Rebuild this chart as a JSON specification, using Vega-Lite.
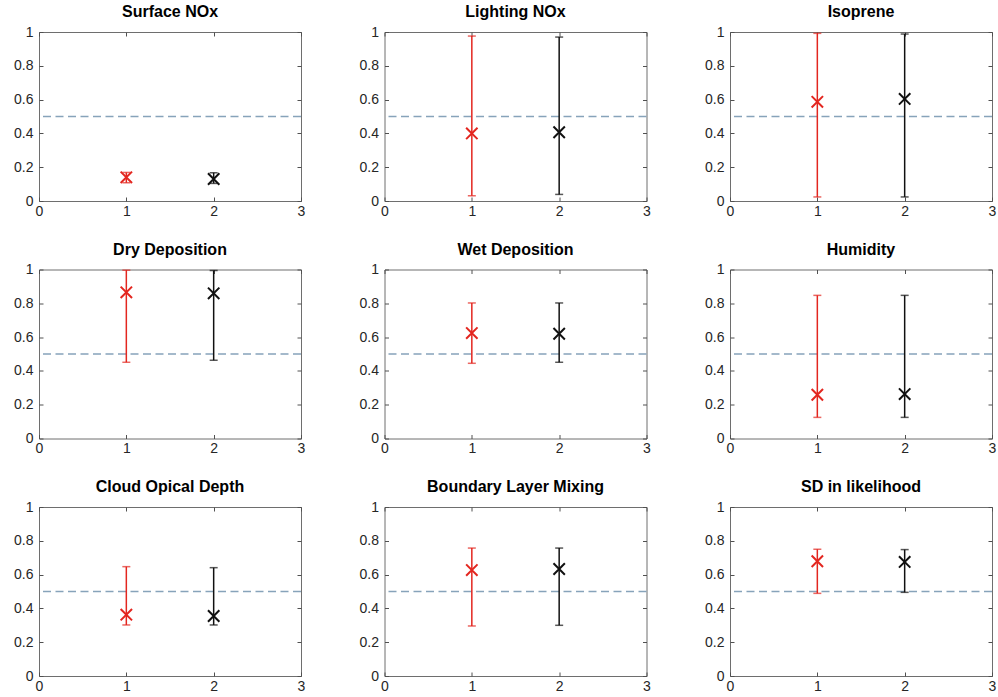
{
  "$schema": "https://vega.github.io/schema/vega-lite/v6.json",
  "background": "white",
  "padding": {"left": 13, "top": 3, "right": 0, "bottom": 0},
  "datasets": {
    "est": [
      {"panel": "Surface NOx", "series": "1", "x": 1, "est": 0.14, "lo": 0.108, "hi": 0.169},
      {"panel": "Surface NOx", "series": "2", "x": 2, "est": 0.13, "lo": 0.104, "hi": 0.167},
      {"panel": "Lighting NOx", "series": "1", "x": 1, "est": 0.40, "lo": 0.031, "hi": 0.976},
      {"panel": "Lighting NOx", "series": "2", "x": 2, "est": 0.407, "lo": 0.039, "hi": 0.970},
      {"panel": "Isoprene", "series": "1", "x": 1, "est": 0.587, "lo": 0.024, "hi": 0.992},
      {"panel": "Isoprene", "series": "2", "x": 2, "est": 0.604, "lo": 0.024, "hi": 0.988},
      {"panel": "Dry Deposition", "series": "1", "x": 1, "est": 0.865, "lo": 0.451, "hi": 0.996},
      {"panel": "Dry Deposition", "series": "2", "x": 2, "est": 0.859, "lo": 0.463, "hi": 0.994},
      {"panel": "Wet Deposition", "series": "1", "x": 1, "est": 0.624, "lo": 0.445, "hi": 0.802},
      {"panel": "Wet Deposition", "series": "2", "x": 2, "est": 0.62, "lo": 0.451, "hi": 0.802},
      {"panel": "Humidity", "series": "1", "x": 1, "est": 0.259, "lo": 0.125, "hi": 0.847},
      {"panel": "Humidity", "series": "2", "x": 2, "est": 0.263, "lo": 0.125, "hi": 0.847},
      {"panel": "Cloud Opical Depth", "series": "1", "x": 1, "est": 0.363, "lo": 0.302, "hi": 0.647},
      {"panel": "Cloud Opical Depth", "series": "2", "x": 2, "est": 0.355, "lo": 0.302, "hi": 0.641},
      {"panel": "Boundary Layer Mixing", "series": "1", "x": 1, "est": 0.627, "lo": 0.296, "hi": 0.757},
      {"panel": "Boundary Layer Mixing", "series": "2", "x": 2, "est": 0.633, "lo": 0.30, "hi": 0.757},
      {"panel": "SD in likelihood", "series": "1", "x": 1, "est": 0.679, "lo": 0.489, "hi": 0.75},
      {"panel": "SD in likelihood", "series": "2", "x": 2, "est": 0.675, "lo": 0.495, "hi": 0.748}
    ],
    "ref": [
      {"panel": "Surface NOx", "level": 0.5},
      {"panel": "Lighting NOx", "level": 0.5},
      {"panel": "Isoprene", "level": 0.5},
      {"panel": "Dry Deposition", "level": 0.5},
      {"panel": "Wet Deposition", "level": 0.5},
      {"panel": "Humidity", "level": 0.5},
      {"panel": "Cloud Opical Depth", "level": 0.5},
      {"panel": "Boundary Layer Mixing", "level": 0.5},
      {"panel": "SD in likelihood", "level": 0.5}
    ]
  },
  "columns": 3,
  "spacing": {"row": 68.5, "column": 83.5},
  "bounds": "flush",
  "concat": [
    {"title": "Surface NOx", "width": 262, "height": 169,
     "layer": [
      {"data": {"name": "ref"}, "transform": [{"filter": "datum.panel === 'Surface NOx'"}], "mark": {"type": "rule", "color": "#87a3ba", "strokeDash": [8, 4.5], "strokeWidth": 1.5}, "encoding": {"y": {"field": "level", "type": "quantitative", "scale": {"domain": [0, 1], "nice": false}, "axis": null}}},
      {"data": {"name": "est"}, "transform": [{"filter": "datum.panel === 'Surface NOx'"}], "mark": {"type": "rule", "strokeWidth": 1.5}, "encoding": {"x": {"field": "x", "type": "quantitative", "title": null, "scale": {"domain": [0, 3], "nice": false}, "axis": {"values": [0, 1, 2, 3], "orient": "bottom", "labelPadding": 7}}, "y": {"field": "lo", "type": "quantitative", "title": null, "scale": {"domain": [0, 1], "nice": false}, "axis": {"values": [0, 0.2, 0.4, 0.6, 0.8, 1], "format": "~g", "orient": "left", "labelPadding": 10}}, "y2": {"field": "hi"}, "color": {"field": "series", "type": "nominal", "scale": {"domain": ["1", "2"], "range": ["#e3261f", "#111111"]}, "legend": null}}},
      {"data": {"name": "est"}, "transform": [{"filter": "datum.panel === 'Surface NOx'"}], "mark": {"type": "tick", "orient": "horizontal", "size": 8, "thickness": 1.5}, "encoding": {"x": {"field": "x", "type": "quantitative", "axis": null}, "y": {"field": "lo", "type": "quantitative", "axis": null}, "color": {"field": "series", "type": "nominal", "legend": null}}},
      {"data": {"name": "est"}, "transform": [{"filter": "datum.panel === 'Surface NOx'"}], "mark": {"type": "tick", "orient": "horizontal", "size": 8, "thickness": 1.5}, "encoding": {"x": {"field": "x", "type": "quantitative", "axis": null}, "y": {"field": "hi", "type": "quantitative", "axis": null}, "color": {"field": "series", "type": "nominal", "legend": null}}},
      {"data": {"name": "est"}, "transform": [{"filter": "datum.panel === 'Surface NOx'"}], "mark": {"type": "point", "shape": "M-1,-1L1,1M-1,1L1,-1", "size": 130, "strokeWidth": 2, "filled": false, "opacity": 1}, "encoding": {"x": {"field": "x", "type": "quantitative", "title": null, "axis": {"values": [0, 1, 2, 3], "orient": "top", "labels": false}}, "y": {"field": "est", "type": "quantitative", "title": null, "axis": {"values": [0, 0.2, 0.4, 0.6, 0.8, 1], "orient": "right", "labels": false}}, "color": {"field": "series", "type": "nominal", "legend": null}}}
     ],
     "resolve": {"axis": {"x": "independent", "y": "independent"}}},
    {"title": "Lighting NOx", "width": 262, "height": 169,
     "layer": [
      {"data": {"name": "ref"}, "transform": [{"filter": "datum.panel === 'Lighting NOx'"}], "mark": {"type": "rule", "color": "#87a3ba", "strokeDash": [8, 4.5], "strokeWidth": 1.5}, "encoding": {"y": {"field": "level", "type": "quantitative", "scale": {"domain": [0, 1], "nice": false}, "axis": null}}},
      {"data": {"name": "est"}, "transform": [{"filter": "datum.panel === 'Lighting NOx'"}], "mark": {"type": "rule", "strokeWidth": 1.5}, "encoding": {"x": {"field": "x", "type": "quantitative", "title": null, "scale": {"domain": [0, 3], "nice": false}, "axis": {"values": [0, 1, 2, 3], "orient": "bottom", "labelPadding": 7}}, "y": {"field": "lo", "type": "quantitative", "title": null, "scale": {"domain": [0, 1], "nice": false}, "axis": {"values": [0, 0.2, 0.4, 0.6, 0.8, 1], "format": "~g", "orient": "left", "labelPadding": 10}}, "y2": {"field": "hi"}, "color": {"field": "series", "type": "nominal", "scale": {"domain": ["1", "2"], "range": ["#e3261f", "#111111"]}, "legend": null}}},
      {"data": {"name": "est"}, "transform": [{"filter": "datum.panel === 'Lighting NOx'"}], "mark": {"type": "tick", "orient": "horizontal", "size": 8, "thickness": 1.5}, "encoding": {"x": {"field": "x", "type": "quantitative", "axis": null}, "y": {"field": "lo", "type": "quantitative", "axis": null}, "color": {"field": "series", "type": "nominal", "legend": null}}},
      {"data": {"name": "est"}, "transform": [{"filter": "datum.panel === 'Lighting NOx'"}], "mark": {"type": "tick", "orient": "horizontal", "size": 8, "thickness": 1.5}, "encoding": {"x": {"field": "x", "type": "quantitative", "axis": null}, "y": {"field": "hi", "type": "quantitative", "axis": null}, "color": {"field": "series", "type": "nominal", "legend": null}}},
      {"data": {"name": "est"}, "transform": [{"filter": "datum.panel === 'Lighting NOx'"}], "mark": {"type": "point", "shape": "M-1,-1L1,1M-1,1L1,-1", "size": 130, "strokeWidth": 2, "filled": false, "opacity": 1}, "encoding": {"x": {"field": "x", "type": "quantitative", "title": null, "axis": {"values": [0, 1, 2, 3], "orient": "top", "labels": false}}, "y": {"field": "est", "type": "quantitative", "title": null, "axis": {"values": [0, 0.2, 0.4, 0.6, 0.8, 1], "orient": "right", "labels": false}}, "color": {"field": "series", "type": "nominal", "legend": null}}}
     ],
     "resolve": {"axis": {"x": "independent", "y": "independent"}}},
    {"title": "Isoprene", "width": 262, "height": 169,
     "layer": [
      {"data": {"name": "ref"}, "transform": [{"filter": "datum.panel === 'Isoprene'"}], "mark": {"type": "rule", "color": "#87a3ba", "strokeDash": [8, 4.5], "strokeWidth": 1.5}, "encoding": {"y": {"field": "level", "type": "quantitative", "scale": {"domain": [0, 1], "nice": false}, "axis": null}}},
      {"data": {"name": "est"}, "transform": [{"filter": "datum.panel === 'Isoprene'"}], "mark": {"type": "rule", "strokeWidth": 1.5}, "encoding": {"x": {"field": "x", "type": "quantitative", "title": null, "scale": {"domain": [0, 3], "nice": false}, "axis": {"values": [0, 1, 2, 3], "orient": "bottom", "labelPadding": 7}}, "y": {"field": "lo", "type": "quantitative", "title": null, "scale": {"domain": [0, 1], "nice": false}, "axis": {"values": [0, 0.2, 0.4, 0.6, 0.8, 1], "format": "~g", "orient": "left", "labelPadding": 10}}, "y2": {"field": "hi"}, "color": {"field": "series", "type": "nominal", "scale": {"domain": ["1", "2"], "range": ["#e3261f", "#111111"]}, "legend": null}}},
      {"data": {"name": "est"}, "transform": [{"filter": "datum.panel === 'Isoprene'"}], "mark": {"type": "tick", "orient": "horizontal", "size": 8, "thickness": 1.5}, "encoding": {"x": {"field": "x", "type": "quantitative", "axis": null}, "y": {"field": "lo", "type": "quantitative", "axis": null}, "color": {"field": "series", "type": "nominal", "legend": null}}},
      {"data": {"name": "est"}, "transform": [{"filter": "datum.panel === 'Isoprene'"}], "mark": {"type": "tick", "orient": "horizontal", "size": 8, "thickness": 1.5}, "encoding": {"x": {"field": "x", "type": "quantitative", "axis": null}, "y": {"field": "hi", "type": "quantitative", "axis": null}, "color": {"field": "series", "type": "nominal", "legend": null}}},
      {"data": {"name": "est"}, "transform": [{"filter": "datum.panel === 'Isoprene'"}], "mark": {"type": "point", "shape": "M-1,-1L1,1M-1,1L1,-1", "size": 130, "strokeWidth": 2, "filled": false, "opacity": 1}, "encoding": {"x": {"field": "x", "type": "quantitative", "title": null, "axis": {"values": [0, 1, 2, 3], "orient": "top", "labels": false}}, "y": {"field": "est", "type": "quantitative", "title": null, "axis": {"values": [0, 0.2, 0.4, 0.6, 0.8, 1], "orient": "right", "labels": false}}, "color": {"field": "series", "type": "nominal", "legend": null}}}
     ],
     "resolve": {"axis": {"x": "independent", "y": "independent"}}},
    {"title": "Dry Deposition", "width": 262, "height": 169,
     "layer": [
      {"data": {"name": "ref"}, "transform": [{"filter": "datum.panel === 'Dry Deposition'"}], "mark": {"type": "rule", "color": "#87a3ba", "strokeDash": [8, 4.5], "strokeWidth": 1.5}, "encoding": {"y": {"field": "level", "type": "quantitative", "scale": {"domain": [0, 1], "nice": false}, "axis": null}}},
      {"data": {"name": "est"}, "transform": [{"filter": "datum.panel === 'Dry Deposition'"}], "mark": {"type": "rule", "strokeWidth": 1.5}, "encoding": {"x": {"field": "x", "type": "quantitative", "title": null, "scale": {"domain": [0, 3], "nice": false}, "axis": {"values": [0, 1, 2, 3], "orient": "bottom", "labelPadding": 7}}, "y": {"field": "lo", "type": "quantitative", "title": null, "scale": {"domain": [0, 1], "nice": false}, "axis": {"values": [0, 0.2, 0.4, 0.6, 0.8, 1], "format": "~g", "orient": "left", "labelPadding": 10}}, "y2": {"field": "hi"}, "color": {"field": "series", "type": "nominal", "scale": {"domain": ["1", "2"], "range": ["#e3261f", "#111111"]}, "legend": null}}},
      {"data": {"name": "est"}, "transform": [{"filter": "datum.panel === 'Dry Deposition'"}], "mark": {"type": "tick", "orient": "horizontal", "size": 8, "thickness": 1.5}, "encoding": {"x": {"field": "x", "type": "quantitative", "axis": null}, "y": {"field": "lo", "type": "quantitative", "axis": null}, "color": {"field": "series", "type": "nominal", "legend": null}}},
      {"data": {"name": "est"}, "transform": [{"filter": "datum.panel === 'Dry Deposition'"}], "mark": {"type": "tick", "orient": "horizontal", "size": 8, "thickness": 1.5}, "encoding": {"x": {"field": "x", "type": "quantitative", "axis": null}, "y": {"field": "hi", "type": "quantitative", "axis": null}, "color": {"field": "series", "type": "nominal", "legend": null}}},
      {"data": {"name": "est"}, "transform": [{"filter": "datum.panel === 'Dry Deposition'"}], "mark": {"type": "point", "shape": "M-1,-1L1,1M-1,1L1,-1", "size": 130, "strokeWidth": 2, "filled": false, "opacity": 1}, "encoding": {"x": {"field": "x", "type": "quantitative", "title": null, "axis": {"values": [0, 1, 2, 3], "orient": "top", "labels": false}}, "y": {"field": "est", "type": "quantitative", "title": null, "axis": {"values": [0, 0.2, 0.4, 0.6, 0.8, 1], "orient": "right", "labels": false}}, "color": {"field": "series", "type": "nominal", "legend": null}}}
     ],
     "resolve": {"axis": {"x": "independent", "y": "independent"}}},
    {"title": "Wet Deposition", "width": 262, "height": 169,
     "layer": [
      {"data": {"name": "ref"}, "transform": [{"filter": "datum.panel === 'Wet Deposition'"}], "mark": {"type": "rule", "color": "#87a3ba", "strokeDash": [8, 4.5], "strokeWidth": 1.5}, "encoding": {"y": {"field": "level", "type": "quantitative", "scale": {"domain": [0, 1], "nice": false}, "axis": null}}},
      {"data": {"name": "est"}, "transform": [{"filter": "datum.panel === 'Wet Deposition'"}], "mark": {"type": "rule", "strokeWidth": 1.5}, "encoding": {"x": {"field": "x", "type": "quantitative", "title": null, "scale": {"domain": [0, 3], "nice": false}, "axis": {"values": [0, 1, 2, 3], "orient": "bottom", "labelPadding": 7}}, "y": {"field": "lo", "type": "quantitative", "title": null, "scale": {"domain": [0, 1], "nice": false}, "axis": {"values": [0, 0.2, 0.4, 0.6, 0.8, 1], "format": "~g", "orient": "left", "labelPadding": 10}}, "y2": {"field": "hi"}, "color": {"field": "series", "type": "nominal", "scale": {"domain": ["1", "2"], "range": ["#e3261f", "#111111"]}, "legend": null}}},
      {"data": {"name": "est"}, "transform": [{"filter": "datum.panel === 'Wet Deposition'"}], "mark": {"type": "tick", "orient": "horizontal", "size": 8, "thickness": 1.5}, "encoding": {"x": {"field": "x", "type": "quantitative", "axis": null}, "y": {"field": "lo", "type": "quantitative", "axis": null}, "color": {"field": "series", "type": "nominal", "legend": null}}},
      {"data": {"name": "est"}, "transform": [{"filter": "datum.panel === 'Wet Deposition'"}], "mark": {"type": "tick", "orient": "horizontal", "size": 8, "thickness": 1.5}, "encoding": {"x": {"field": "x", "type": "quantitative", "axis": null}, "y": {"field": "hi", "type": "quantitative", "axis": null}, "color": {"field": "series", "type": "nominal", "legend": null}}},
      {"data": {"name": "est"}, "transform": [{"filter": "datum.panel === 'Wet Deposition'"}], "mark": {"type": "point", "shape": "M-1,-1L1,1M-1,1L1,-1", "size": 130, "strokeWidth": 2, "filled": false, "opacity": 1}, "encoding": {"x": {"field": "x", "type": "quantitative", "title": null, "axis": {"values": [0, 1, 2, 3], "orient": "top", "labels": false}}, "y": {"field": "est", "type": "quantitative", "title": null, "axis": {"values": [0, 0.2, 0.4, 0.6, 0.8, 1], "orient": "right", "labels": false}}, "color": {"field": "series", "type": "nominal", "legend": null}}}
     ],
     "resolve": {"axis": {"x": "independent", "y": "independent"}}},
    {"title": "Humidity", "width": 262, "height": 169,
     "layer": [
      {"data": {"name": "ref"}, "transform": [{"filter": "datum.panel === 'Humidity'"}], "mark": {"type": "rule", "color": "#87a3ba", "strokeDash": [8, 4.5], "strokeWidth": 1.5}, "encoding": {"y": {"field": "level", "type": "quantitative", "scale": {"domain": [0, 1], "nice": false}, "axis": null}}},
      {"data": {"name": "est"}, "transform": [{"filter": "datum.panel === 'Humidity'"}], "mark": {"type": "rule", "strokeWidth": 1.5}, "encoding": {"x": {"field": "x", "type": "quantitative", "title": null, "scale": {"domain": [0, 3], "nice": false}, "axis": {"values": [0, 1, 2, 3], "orient": "bottom", "labelPadding": 7}}, "y": {"field": "lo", "type": "quantitative", "title": null, "scale": {"domain": [0, 1], "nice": false}, "axis": {"values": [0, 0.2, 0.4, 0.6, 0.8, 1], "format": "~g", "orient": "left", "labelPadding": 10}}, "y2": {"field": "hi"}, "color": {"field": "series", "type": "nominal", "scale": {"domain": ["1", "2"], "range": ["#e3261f", "#111111"]}, "legend": null}}},
      {"data": {"name": "est"}, "transform": [{"filter": "datum.panel === 'Humidity'"}], "mark": {"type": "tick", "orient": "horizontal", "size": 8, "thickness": 1.5}, "encoding": {"x": {"field": "x", "type": "quantitative", "axis": null}, "y": {"field": "lo", "type": "quantitative", "axis": null}, "color": {"field": "series", "type": "nominal", "legend": null}}},
      {"data": {"name": "est"}, "transform": [{"filter": "datum.panel === 'Humidity'"}], "mark": {"type": "tick", "orient": "horizontal", "size": 8, "thickness": 1.5}, "encoding": {"x": {"field": "x", "type": "quantitative", "axis": null}, "y": {"field": "hi", "type": "quantitative", "axis": null}, "color": {"field": "series", "type": "nominal", "legend": null}}},
      {"data": {"name": "est"}, "transform": [{"filter": "datum.panel === 'Humidity'"}], "mark": {"type": "point", "shape": "M-1,-1L1,1M-1,1L1,-1", "size": 130, "strokeWidth": 2, "filled": false, "opacity": 1}, "encoding": {"x": {"field": "x", "type": "quantitative", "title": null, "axis": {"values": [0, 1, 2, 3], "orient": "top", "labels": false}}, "y": {"field": "est", "type": "quantitative", "title": null, "axis": {"values": [0, 0.2, 0.4, 0.6, 0.8, 1], "orient": "right", "labels": false}}, "color": {"field": "series", "type": "nominal", "legend": null}}}
     ],
     "resolve": {"axis": {"x": "independent", "y": "independent"}}},
    {"title": "Cloud Opical Depth", "width": 262, "height": 169,
     "layer": [
      {"data": {"name": "ref"}, "transform": [{"filter": "datum.panel === 'Cloud Opical Depth'"}], "mark": {"type": "rule", "color": "#87a3ba", "strokeDash": [8, 4.5], "strokeWidth": 1.5}, "encoding": {"y": {"field": "level", "type": "quantitative", "scale": {"domain": [0, 1], "nice": false}, "axis": null}}},
      {"data": {"name": "est"}, "transform": [{"filter": "datum.panel === 'Cloud Opical Depth'"}], "mark": {"type": "rule", "strokeWidth": 1.5}, "encoding": {"x": {"field": "x", "type": "quantitative", "title": null, "scale": {"domain": [0, 3], "nice": false}, "axis": {"values": [0, 1, 2, 3], "orient": "bottom", "labelPadding": 7}}, "y": {"field": "lo", "type": "quantitative", "title": null, "scale": {"domain": [0, 1], "nice": false}, "axis": {"values": [0, 0.2, 0.4, 0.6, 0.8, 1], "format": "~g", "orient": "left", "labelPadding": 10}}, "y2": {"field": "hi"}, "color": {"field": "series", "type": "nominal", "scale": {"domain": ["1", "2"], "range": ["#e3261f", "#111111"]}, "legend": null}}},
      {"data": {"name": "est"}, "transform": [{"filter": "datum.panel === 'Cloud Opical Depth'"}], "mark": {"type": "tick", "orient": "horizontal", "size": 8, "thickness": 1.5}, "encoding": {"x": {"field": "x", "type": "quantitative", "axis": null}, "y": {"field": "lo", "type": "quantitative", "axis": null}, "color": {"field": "series", "type": "nominal", "legend": null}}},
      {"data": {"name": "est"}, "transform": [{"filter": "datum.panel === 'Cloud Opical Depth'"}], "mark": {"type": "tick", "orient": "horizontal", "size": 8, "thickness": 1.5}, "encoding": {"x": {"field": "x", "type": "quantitative", "axis": null}, "y": {"field": "hi", "type": "quantitative", "axis": null}, "color": {"field": "series", "type": "nominal", "legend": null}}},
      {"data": {"name": "est"}, "transform": [{"filter": "datum.panel === 'Cloud Opical Depth'"}], "mark": {"type": "point", "shape": "M-1,-1L1,1M-1,1L1,-1", "size": 130, "strokeWidth": 2, "filled": false, "opacity": 1}, "encoding": {"x": {"field": "x", "type": "quantitative", "title": null, "axis": {"values": [0, 1, 2, 3], "orient": "top", "labels": false}}, "y": {"field": "est", "type": "quantitative", "title": null, "axis": {"values": [0, 0.2, 0.4, 0.6, 0.8, 1], "orient": "right", "labels": false}}, "color": {"field": "series", "type": "nominal", "legend": null}}}
     ],
     "resolve": {"axis": {"x": "independent", "y": "independent"}}},
    {"title": "Boundary Layer Mixing", "width": 262, "height": 169,
     "layer": [
      {"data": {"name": "ref"}, "transform": [{"filter": "datum.panel === 'Boundary Layer Mixing'"}], "mark": {"type": "rule", "color": "#87a3ba", "strokeDash": [8, 4.5], "strokeWidth": 1.5}, "encoding": {"y": {"field": "level", "type": "quantitative", "scale": {"domain": [0, 1], "nice": false}, "axis": null}}},
      {"data": {"name": "est"}, "transform": [{"filter": "datum.panel === 'Boundary Layer Mixing'"}], "mark": {"type": "rule", "strokeWidth": 1.5}, "encoding": {"x": {"field": "x", "type": "quantitative", "title": null, "scale": {"domain": [0, 3], "nice": false}, "axis": {"values": [0, 1, 2, 3], "orient": "bottom", "labelPadding": 7}}, "y": {"field": "lo", "type": "quantitative", "title": null, "scale": {"domain": [0, 1], "nice": false}, "axis": {"values": [0, 0.2, 0.4, 0.6, 0.8, 1], "format": "~g", "orient": "left", "labelPadding": 10}}, "y2": {"field": "hi"}, "color": {"field": "series", "type": "nominal", "scale": {"domain": ["1", "2"], "range": ["#e3261f", "#111111"]}, "legend": null}}},
      {"data": {"name": "est"}, "transform": [{"filter": "datum.panel === 'Boundary Layer Mixing'"}], "mark": {"type": "tick", "orient": "horizontal", "size": 8, "thickness": 1.5}, "encoding": {"x": {"field": "x", "type": "quantitative", "axis": null}, "y": {"field": "lo", "type": "quantitative", "axis": null}, "color": {"field": "series", "type": "nominal", "legend": null}}},
      {"data": {"name": "est"}, "transform": [{"filter": "datum.panel === 'Boundary Layer Mixing'"}], "mark": {"type": "tick", "orient": "horizontal", "size": 8, "thickness": 1.5}, "encoding": {"x": {"field": "x", "type": "quantitative", "axis": null}, "y": {"field": "hi", "type": "quantitative", "axis": null}, "color": {"field": "series", "type": "nominal", "legend": null}}},
      {"data": {"name": "est"}, "transform": [{"filter": "datum.panel === 'Boundary Layer Mixing'"}], "mark": {"type": "point", "shape": "M-1,-1L1,1M-1,1L1,-1", "size": 130, "strokeWidth": 2, "filled": false, "opacity": 1}, "encoding": {"x": {"field": "x", "type": "quantitative", "title": null, "axis": {"values": [0, 1, 2, 3], "orient": "top", "labels": false}}, "y": {"field": "est", "type": "quantitative", "title": null, "axis": {"values": [0, 0.2, 0.4, 0.6, 0.8, 1], "orient": "right", "labels": false}}, "color": {"field": "series", "type": "nominal", "legend": null}}}
     ],
     "resolve": {"axis": {"x": "independent", "y": "independent"}}},
    {"title": "SD in likelihood", "width": 262, "height": 169,
     "layer": [
      {"data": {"name": "ref"}, "transform": [{"filter": "datum.panel === 'SD in likelihood'"}], "mark": {"type": "rule", "color": "#87a3ba", "strokeDash": [8, 4.5], "strokeWidth": 1.5}, "encoding": {"y": {"field": "level", "type": "quantitative", "scale": {"domain": [0, 1], "nice": false}, "axis": null}}},
      {"data": {"name": "est"}, "transform": [{"filter": "datum.panel === 'SD in likelihood'"}], "mark": {"type": "rule", "strokeWidth": 1.5}, "encoding": {"x": {"field": "x", "type": "quantitative", "title": null, "scale": {"domain": [0, 3], "nice": false}, "axis": {"values": [0, 1, 2, 3], "orient": "bottom", "labelPadding": 7}}, "y": {"field": "lo", "type": "quantitative", "title": null, "scale": {"domain": [0, 1], "nice": false}, "axis": {"values": [0, 0.2, 0.4, 0.6, 0.8, 1], "format": "~g", "orient": "left", "labelPadding": 10}}, "y2": {"field": "hi"}, "color": {"field": "series", "type": "nominal", "scale": {"domain": ["1", "2"], "range": ["#e3261f", "#111111"]}, "legend": null}}},
      {"data": {"name": "est"}, "transform": [{"filter": "datum.panel === 'SD in likelihood'"}], "mark": {"type": "tick", "orient": "horizontal", "size": 8, "thickness": 1.5}, "encoding": {"x": {"field": "x", "type": "quantitative", "axis": null}, "y": {"field": "lo", "type": "quantitative", "axis": null}, "color": {"field": "series", "type": "nominal", "legend": null}}},
      {"data": {"name": "est"}, "transform": [{"filter": "datum.panel === 'SD in likelihood'"}], "mark": {"type": "tick", "orient": "horizontal", "size": 8, "thickness": 1.5}, "encoding": {"x": {"field": "x", "type": "quantitative", "axis": null}, "y": {"field": "hi", "type": "quantitative", "axis": null}, "color": {"field": "series", "type": "nominal", "legend": null}}},
      {"data": {"name": "est"}, "transform": [{"filter": "datum.panel === 'SD in likelihood'"}], "mark": {"type": "point", "shape": "M-1,-1L1,1M-1,1L1,-1", "size": 130, "strokeWidth": 2, "filled": false, "opacity": 1}, "encoding": {"x": {"field": "x", "type": "quantitative", "title": null, "axis": {"values": [0, 1, 2, 3], "orient": "top", "labels": false}}, "y": {"field": "est", "type": "quantitative", "title": null, "axis": {"values": [0, 0.2, 0.4, 0.6, 0.8, 1], "orient": "right", "labels": false}}, "color": {"field": "series", "type": "nominal", "legend": null}}}
     ],
     "resolve": {"axis": {"x": "independent", "y": "independent"}}}
  ],
  "config": {
    "font": "Liberation Sans",
    "view": {"stroke": "#6e6e6e", "strokeWidth": 1},
    "axis": {"domain": false, "grid": false, "tickSize": -4, "tickColor": "#505050", "tickWidth": 1, "labelFont": "Liberation Sans", "labelFontSize": 14, "labelColor": "#262626", "labelFlush": false, "labelOverlap": false},
    "title": {"font": "Liberation Sans", "fontSize": 16, "fontWeight": "bold", "color": "#000000", "offset": 5}
  }
}
